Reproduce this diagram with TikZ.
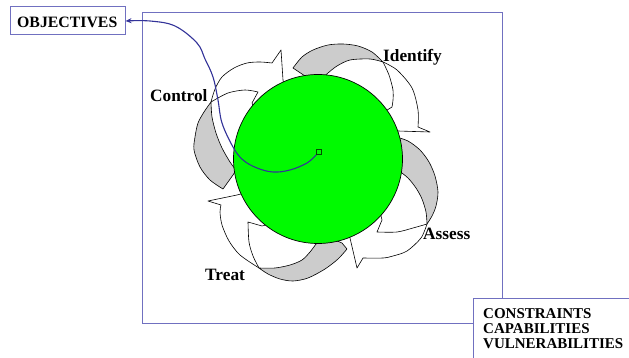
\documentclass[tikz,border=0pt]{standalone}
\usepackage{fontspec}
\setmainfont{Liberation Serif}
\usetikzlibrary{arrows.meta}
\definecolor{boxblue}{RGB}{112,112,192}
\definecolor{connblue}{RGB}{51,51,153}
\definecolor{bandgray}{RGB}{204,204,204}
\definecolor{ballgreen}{RGB}{0,250,0}
\begin{document}
\begin{tikzpicture}[x=1pt,y=-1pt,
  edge/.style={draw=black,line width=0.6pt,line join=round},
  grayband/.style={fill=bandgray,draw=black,line width=0.6pt,line join=round},
  lbl/.style={font=\fontsize{17.3}{20}\selectfont\bfseries,inner sep=0pt,anchor=base west},
  boxtext/.style={font=\fontsize{15}{16}\selectfont\bfseries,inner sep=0pt,anchor=base west},
  frame/.style={draw=boxblue,line width=1pt}]
\useasboundingbox (0,0) rectangle (629,358);
\fill[white] (0,0) rectangle (629,358);

% outer frame
\draw[frame] (142,12.7) rectangle (502.7,323);

% ---------- Identify arrow ----------
\fill[white] (340,95) -- plot[smooth] coordinates {(328,73) (337,66) (350,60) (370,59) (383,62)}
  -- plot[smooth] coordinates {(383,62) (397,70) (412,88) (418,110) (418,127)}
  -- (430,132) -- (398,131) -- (375,135) -- cycle;
\filldraw[grayband] plot[smooth] coordinates {(293,68) (302,57) (313,50) (328,45) (343,44) (358,46) (372,52) (383,62)}
  -- plot[smooth] coordinates {(383,62) (370,59) (350,60) (337,66) (328,73)}
  -- (320,80) -- (305,76) -- cycle;
\draw[edge] plot[smooth] coordinates {(383,62) (397,70) (412,88) (418,110) (418,127)} -- (430,132) -- (398,131) -- (380,134);
\draw[edge] plot[smooth] coordinates {(383,62) (389,75) (393,90) (393,100) (392,107)} -- (384,112);

% ---------- Assess arrow ----------
\fill[white] (385,200) -- plot[smooth] coordinates {(398,170) (408,178) (416,188) (422,199) (426,212) (427,224)}
  -- plot[smooth] coordinates {(427,224) (421,238) (407,251) (393,256) (383,258) (363,258)}
  -- (357,268) -- (350,238) -- (345,225) -- cycle;
\filldraw[grayband] plot[smooth] coordinates {(396,137) (408,141) (420,150) (429,162) (435,176) (438,192) (436,206) (432,216) (427,224)}
  -- plot[smooth] coordinates {(427,224) (426,212) (422,199) (416,188) (408,178) (398,170)} -- cycle;
\draw[edge] plot[smooth] coordinates {(427,224) (421,238) (407,251) (393,256) (383,258) (363,258)} -- (357,268) -- (350,238) -- (347,228);
\draw[edge] plot[smooth] coordinates {(427,224) (413,228) (397,232) (377,232)} -- (382,220) -- (380,212);

% ---------- Treat arrow ----------
\fill[white] (270,215) -- plot[smooth] coordinates {(316,244) (310,252) (302,260) (290,265) (275,268) (259,268)}
  -- plot[smooth] coordinates {(259,268) (240,255) (229,241) (222,225) (220,212) (221,205)}
  -- (208,201) -- (237,195) -- (255,190) -- cycle;
\filldraw[grayband] plot[smooth] coordinates {(347,249) (338,259) (325,269) (308,278) (293,281) (280,279) (268,274) (259,268)}
  -- plot[smooth] coordinates {(259,268) (275,268) (290,265) (302,260) (310,252) (316,244)}
  -- (330,238) -- (342,243) -- cycle;
\draw[edge] plot[smooth] coordinates {(259,268) (240,255) (229,241) (222,225) (220,212) (221,205)} -- (208,201) -- (237,195) -- (252,191);
\draw[edge] plot[smooth] coordinates {(259,268) (253,256) (249,242) (248,222)} -- (262,226) -- (270,224);

% ---------- Control arrow ----------
\fill[white] (250,125) -- plot[smooth] coordinates {(236,170) (230,162) (222,148) (216,133) (212,117) (211,102)}
  -- plot[smooth] coordinates {(211,102) (215,89) (222,77) (234,68) (247,63) (260,62) (272,63)}
  -- (281,50) -- (283,80) -- (288,95) -- cycle;
\filldraw[grayband] plot[smooth] coordinates {(223,189) (210,180) (200,167) (194,150) (195,137) (198,123) (204,112) (211,102)}
  -- plot[smooth] coordinates {(211,102) (212,117) (216,133) (222,148) (230,162) (236,170)}
  -- (233,175) -- cycle;
\draw[edge] plot[smooth] coordinates {(211,102) (215,89) (222,77) (234,68) (247,63) (260,62) (272,63)} -- (281,50) -- (283,80) -- (286,95);
\draw[edge] plot[smooth] coordinates {(211,102) (228,93) (245,90) (258,92)} -- (252,103) -- (256,112);

% ---------- central ball ----------
\filldraw[fill=ballgreen,draw=black,line width=0.7pt] (318,159) circle (84.5);
\node[draw=black!70!green,fill=ballgreen,minimum size=5pt,inner sep=0pt,line width=0.6pt] (sq) at (319,152) {};

% ---------- boxes ----------
\node[frame,fill=white,minimum width=115pt,minimum height=28pt,inner sep=0pt] (obj) at (67.5,21) {};
\node[boxtext,font=\fontsize{15.8}{17}\selectfont\bfseries] (objt) at (17,28) {OBJECTIVES};
\draw[frame,fill=white] (473,298) rectangle (650,380);
\node[boxtext] (c1) at (483,318) {CONSTRAINTS};
\node[boxtext] (c2) at (483,333) {CAPABILITIES};
\node[boxtext] (c3) at (483,348) {VULNERABILITIES};

% ---------- connector ----------
\draw[connblue,line width=1.1pt,-{Stealth[length=6pt,width=5pt]}] plot[smooth,tension=0.6] coordinates
  {(sq.south west) (307,163) (290,170) (273,172) (257,168) (243,160) (233,147) (222,123) (218,100) (213,77) (205,59) (197,43) (175,26) (150,21) (obj.east)};

% ---------- labels ----------
\node[lbl] (lcontrol) at (150,102) {Control};
\node[lbl] (lidentify) at (383,62) {Identify};
\node[lbl] (lassess) at (423,240) {Assess};
\node[lbl] (ltreat) at (205,280) {Treat};
\end{tikzpicture}
\end{document}
